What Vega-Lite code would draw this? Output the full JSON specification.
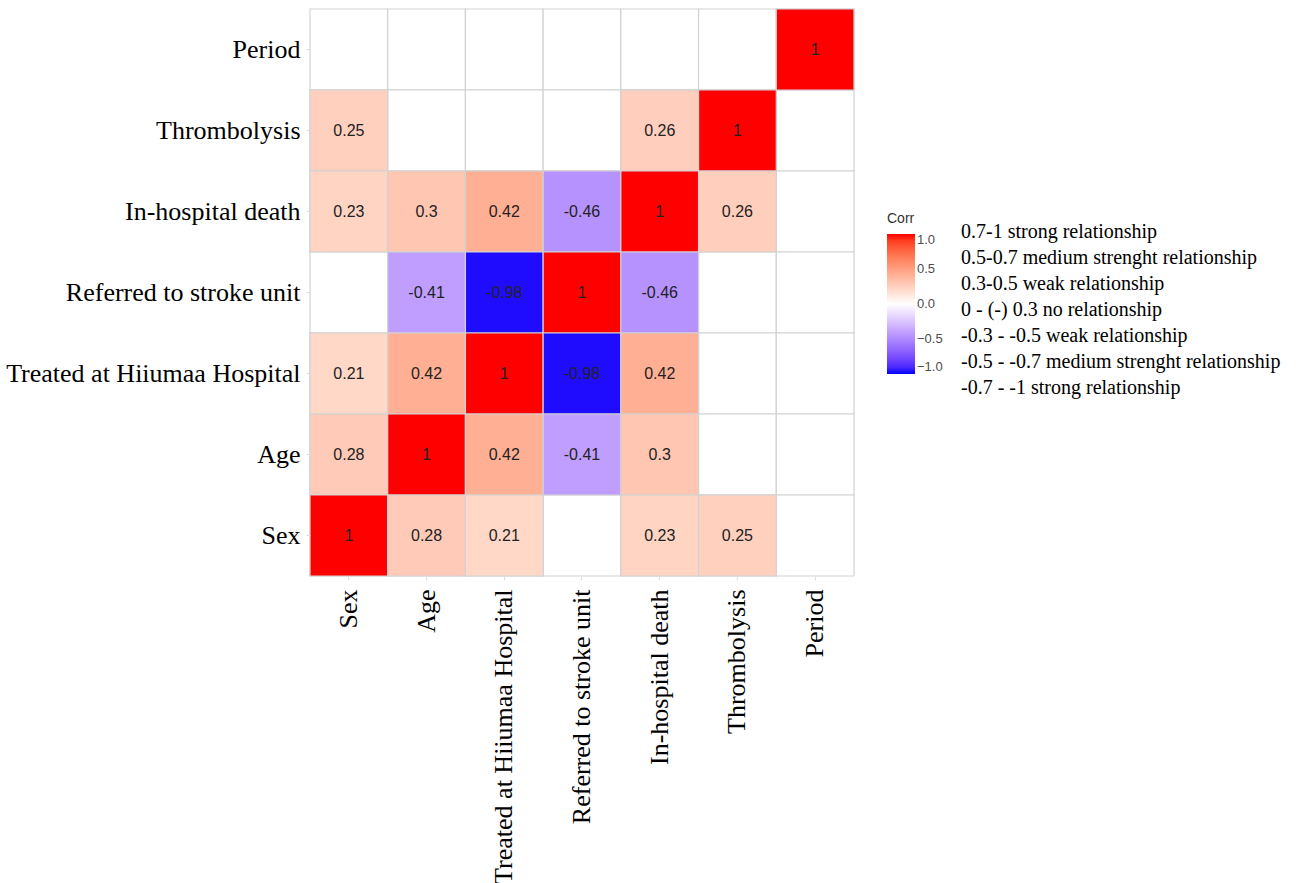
{
  "$schema": "https://vega.github.io/schema/vega-lite/v6.json",
  "width": 544,
  "height": 567,
  "padding": {"left": 5, "top": 6, "right": 5, "bottom": 0},
  "background": "white",
  "config": {"view": {"stroke": null}},
  "datasets": {
    "cells": [
      {"row": "Period", "col": "Sex", "corr": null},
      {"row": "Period", "col": "Age", "corr": null},
      {"row": "Period", "col": "Treated at Hiiumaa Hospital", "corr": null},
      {"row": "Period", "col": "Referred to stroke unit", "corr": null},
      {"row": "Period", "col": "In-hospital death", "corr": null},
      {"row": "Period", "col": "Thrombolysis", "corr": null},
      {"row": "Period", "col": "Period", "corr": 1},
      {"row": "Thrombolysis", "col": "Sex", "corr": 0.25},
      {"row": "Thrombolysis", "col": "Age", "corr": null},
      {"row": "Thrombolysis", "col": "Treated at Hiiumaa Hospital", "corr": null},
      {"row": "Thrombolysis", "col": "Referred to stroke unit", "corr": null},
      {"row": "Thrombolysis", "col": "In-hospital death", "corr": 0.26},
      {"row": "Thrombolysis", "col": "Thrombolysis", "corr": 1},
      {"row": "Thrombolysis", "col": "Period", "corr": null},
      {"row": "In-hospital death", "col": "Sex", "corr": 0.23},
      {"row": "In-hospital death", "col": "Age", "corr": 0.3},
      {"row": "In-hospital death", "col": "Treated at Hiiumaa Hospital", "corr": 0.42},
      {"row": "In-hospital death", "col": "Referred to stroke unit", "corr": -0.46},
      {"row": "In-hospital death", "col": "In-hospital death", "corr": 1},
      {"row": "In-hospital death", "col": "Thrombolysis", "corr": 0.26},
      {"row": "In-hospital death", "col": "Period", "corr": null},
      {"row": "Referred to stroke unit", "col": "Sex", "corr": null},
      {"row": "Referred to stroke unit", "col": "Age", "corr": -0.41},
      {"row": "Referred to stroke unit", "col": "Treated at Hiiumaa Hospital", "corr": -0.98},
      {"row": "Referred to stroke unit", "col": "Referred to stroke unit", "corr": 1},
      {"row": "Referred to stroke unit", "col": "In-hospital death", "corr": -0.46},
      {"row": "Referred to stroke unit", "col": "Thrombolysis", "corr": null},
      {"row": "Referred to stroke unit", "col": "Period", "corr": null},
      {"row": "Treated at Hiiumaa Hospital", "col": "Sex", "corr": 0.21},
      {"row": "Treated at Hiiumaa Hospital", "col": "Age", "corr": 0.42},
      {"row": "Treated at Hiiumaa Hospital", "col": "Treated at Hiiumaa Hospital", "corr": 1},
      {"row": "Treated at Hiiumaa Hospital", "col": "Referred to stroke unit", "corr": -0.98},
      {"row": "Treated at Hiiumaa Hospital", "col": "In-hospital death", "corr": 0.42},
      {"row": "Treated at Hiiumaa Hospital", "col": "Thrombolysis", "corr": null},
      {"row": "Treated at Hiiumaa Hospital", "col": "Period", "corr": null},
      {"row": "Age", "col": "Sex", "corr": 0.28},
      {"row": "Age", "col": "Age", "corr": 1},
      {"row": "Age", "col": "Treated at Hiiumaa Hospital", "corr": 0.42},
      {"row": "Age", "col": "Referred to stroke unit", "corr": -0.41},
      {"row": "Age", "col": "In-hospital death", "corr": 0.3},
      {"row": "Age", "col": "Thrombolysis", "corr": null},
      {"row": "Age", "col": "Period", "corr": null},
      {"row": "Sex", "col": "Sex", "corr": 1},
      {"row": "Sex", "col": "Age", "corr": 0.28},
      {"row": "Sex", "col": "Treated at Hiiumaa Hospital", "corr": 0.21},
      {"row": "Sex", "col": "Referred to stroke unit", "corr": null},
      {"row": "Sex", "col": "In-hospital death", "corr": 0.23},
      {"row": "Sex", "col": "Thrombolysis", "corr": 0.25},
      {"row": "Sex", "col": "Period", "corr": null}
    ],
    "bands": [
      {"label": "0.7-1 strong relationship"},
      {"label": "0.5-0.7 medium strenght relationship"},
      {"label": "0.3-0.5 weak relationship"},
      {"label": "0 - (-) 0.3 no relationship"},
      {"label": "-0.3 - -0.5 weak relationship"},
      {"label": "-0.5 - -0.7 medium strenght relationship"},
      {"label": "-0.7 - -1 strong relationship"}
    ]
  },
  "encoding": {
    "x": {
      "field": "col", "type": "nominal", "title": null,
      "scale": {"domain": ["Sex", "Age", "Treated at Hiiumaa Hospital", "Referred to stroke unit", "In-hospital death", "Thrombolysis", "Period"], "paddingInner": 0, "paddingOuter": 0},
      "axis": {"labelAngle": -90, "labelFont": "Liberation Serif", "labelFontSize": 26, "labelColor": "black", "labelPadding": 9, "domain": false, "tickColor": "#dddddd", "tickSize": 4, "labelLimit": 400}
    },
    "y": {
      "field": "row", "type": "nominal", "title": null,
      "scale": {"domain": ["Period", "Thrombolysis", "In-hospital death", "Referred to stroke unit", "Treated at Hiiumaa Hospital", "Age", "Sex"], "paddingInner": 0, "paddingOuter": 0},
      "axis": {"labelFont": "Liberation Serif", "labelFontSize": 26, "labelColor": "black", "labelPadding": 6, "domain": false, "tickColor": "#dddddd", "tickSize": 4, "labelLimit": 400}
    }
  },
  "layer": [
    {
      "data": {"name": "cells"},
      "mark": {"type": "rect", "fill": "white", "stroke": "#d2d2d2", "strokeWidth": 1.2}
    },
    {
      "data": {"name": "cells"},
      "transform": [{"filter": "isValid(datum.corr)"}],
      "mark": {"type": "rect", "stroke": "#d2d2d2", "strokeWidth": 1.2},
      "encoding": {
        "color": {
          "field": "corr", "type": "quantitative",
          "scale": {"domain": [-1, 0, 1], "range": ["blue", "white", "red"], "interpolate": "lab"},
          "legend": {
            "title": "Corr", "orient": "none", "legendX": 577, "legendY": 203,
            "titleFont": "Liberation Sans", "titleFontSize": 14, "titleFontWeight": "normal", "titleColor": "#333333", "titlePadding": 8,
            "labelFont": "Liberation Sans", "labelFontSize": 13, "labelColor": "#4d4d4d",
            "gradientLength": 140, "gradientThickness": 28,
            "values": [-1, -0.5, 0, 0.5, 1], "format": ".1f", "tickCount": 5
          }
        }
      }
    },
    {
      "data": {"name": "cells"},
      "transform": [{"filter": "isValid(datum.corr)"}],
      "mark": {"type": "text", "font": "Liberation Sans", "fontSize": 16, "color": "#222222"},
      "encoding": {"text": {"field": "corr", "type": "nominal"}}
    },
    {
      "data": {"name": "bands"},
      "mark": {"type": "point", "opacity": 0},
      "encoding": {
        "shape": {
          "field": "label", "type": "nominal", "sort": null,
          "legend": {
            "title": null, "orient": "none", "legendX": 631, "legendY": 213,
            "symbolOpacity": 0, "symbolSize": 10, "labelOffset": 0,
            "labelFont": "Liberation Serif", "labelFontSize": 20, "labelColor": "black",
            "rowPadding": 6, "labelLimit": 400
          }
        }
      }
    }
  ]
}
